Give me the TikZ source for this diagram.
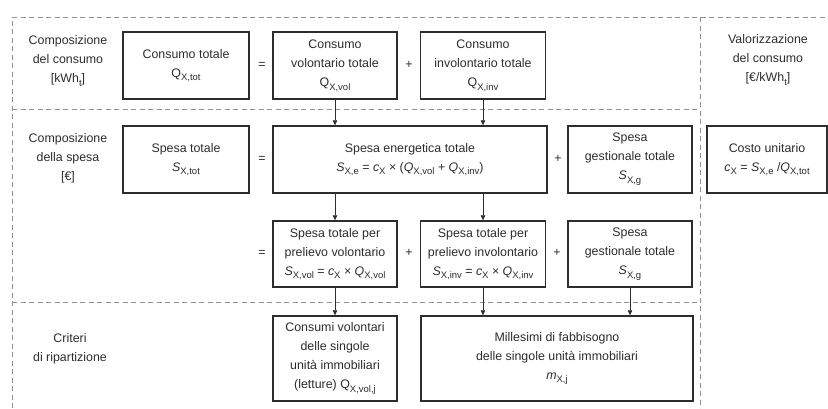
\documentclass[tikz,border=0pt]{standalone}
\usepackage{fontspec}
\setmainfont{Liberation Sans}
\usetikzlibrary{arrows.meta}
\definecolor{ink}{RGB}{45,45,45}
\definecolor{rule}{RGB}{145,145,145}
% lowered subscript in a smaller size
\newcommand\sbx[1]{\raisebox{-0.3em}{\fontsize{9.5}{9.5}\selectfont #1}}
\newcommand\bodyfont{\fontsize{12.4}{19}\selectfont}
\begin{document}
\begin{tikzpicture}[x=1pt,y=-1pt,
  box/.style={draw=ink, line width=1.4pt, fill=white, inner sep=0pt,
    align=center, font=\bodyfont, text=ink},
  lab/.style={align=center, font=\bodyfont, text=ink, inner sep=0pt},
  op/.style={font=\bodyfont, text=ink, inner sep=0pt},
  sep/.style={draw=rule, line width=0.8pt, dash pattern=on 5pt off 3.5pt},
  flow/.style={draw=ink, line width=0.6pt, -{Triangle[length=5pt,width=4.5pt]}}]
\useasboundingbox (0,0) rectangle (828,408);

% section separators
\draw[sep] (12,408) -- (12,17) -- (828,17);
\draw[sep] (700,17) -- (700,408);
\draw[sep] (12,109) -- (700,109);
\draw[sep] (12,302) -- (700,302);

% row labels
\node[lab] (l1) at (68,61) {Composizione\\del consumo\\{[kWh\sbx{t}]}};
\node[lab] (l2) at (68,158) {Composizione\\della spesa\\{[€]}};
\node[lab] (l3) at (70,349) {Criteri\\di ripartizione};
\node[lab] (l4) at (768,60) {Valorizzazione\\del consumo\\{[€/kWh\sbx{t}]}};

% consumption
\node[box, minimum width=126pt, minimum height=67pt] (qtot) at (186,65.5)
  {Consumo totale\\Q\sbx{X,tot}};
\node[op] (eq1) at (262,65) {=};
\node[box, minimum width=124pt, minimum height=67pt] (qvol) at (335,65.5)
  {Consumo\\volontario totale\\Q\sbx{X,vol}};
\node[op] (pl1) at (409,65) {+};
\node[box, minimum width=125pt, minimum height=67pt] (qinv) at (483,65.5)
  {Consumo\\involontario totale\\Q\sbx{X,inv}};

% expenditure
\node[box, minimum width=126pt, minimum height=67pt] (stot) at (186,159.5)
  {Spesa totale\\\textit{S}\sbx{X,tot}};
\node[op] (eq2) at (262,159) {=};
\node[box, minimum width=274pt, minimum height=67pt] (se) at (410,159.5)
  {Spesa energetica totale\\\textit{S}\sbx{X,e} = \textit{c}\sbx{X} × (\textit{Q}\sbx{X,vol} + \textit{Q}\sbx{X,inv})};
\node[op] (pl2) at (558,159) {+};
\node[box, minimum width=124pt, minimum height=67pt] (sg1) at (630,159.5)
  {Spesa\\gestionale totale\\\textit{S}\sbx{X,g}};
\node[box, minimum width=120pt, minimum height=67pt] (cu) at (767,159.5)
  {Costo unitario\\\textit{c}\sbx{X} = \textit{S}\sbx{X,e} /\textit{Q}\sbx{X,tot}};

% split of the expenditure
\node[op] (eq3) at (262,253) {=};
\node[box, minimum width=124pt, minimum height=66pt] (svol) at (335,254)
  {Spesa totale per\\prelievo volontario\\\textit{S}\sbx{X,vol} = \textit{c}\sbx{X} × \textit{Q}\sbx{X,vol}};
\node[op] (pl3) at (409,253) {+};
\node[box, minimum width=125pt, minimum height=66pt] (sinv) at (483,254)
  {Spesa totale per\\prelievo involontario\\\textit{S}\sbx{X,inv} = \textit{c}\sbx{X} × \textit{Q}\sbx{X,inv}};
\node[op] (pl4) at (557,253) {+};
\node[box, minimum width=124pt, minimum height=66pt] (sg2) at (630,254)
  {Spesa\\gestionale totale\\\textit{S}\sbx{X,g}};

% allocation criteria
\node[box, minimum width=124pt, minimum height=85pt] (cvol) at (335,358.5)
  {Consumi volontari\\delle singole\\unità immobiliari\\(letture) Q\sbx{X,vol,j}};
\node[box, minimum width=272pt, minimum height=85pt] (mill) at (557,358.5)
  {Millesimi di fabbisogno\\delle singole unità immobiliari\\\textit{m}\sbx{X,j}};

% flows
\draw[flow] (qvol.south) -- (se.north -| qvol.south);
\draw[flow] (qinv.south) -- (se.north -| qinv.south);
\draw[flow] (se.south -| svol.north) -- (svol.north);
\draw[flow] (se.south -| sinv.north) -- (sinv.north);
\draw[flow] (svol.south) -- (cvol.north);
\draw[flow] (sinv.south) -- (mill.north -| sinv.south);
\draw[flow] (sg2.south) -- (mill.north -| sg2.south);
\end{tikzpicture}
\end{document}
